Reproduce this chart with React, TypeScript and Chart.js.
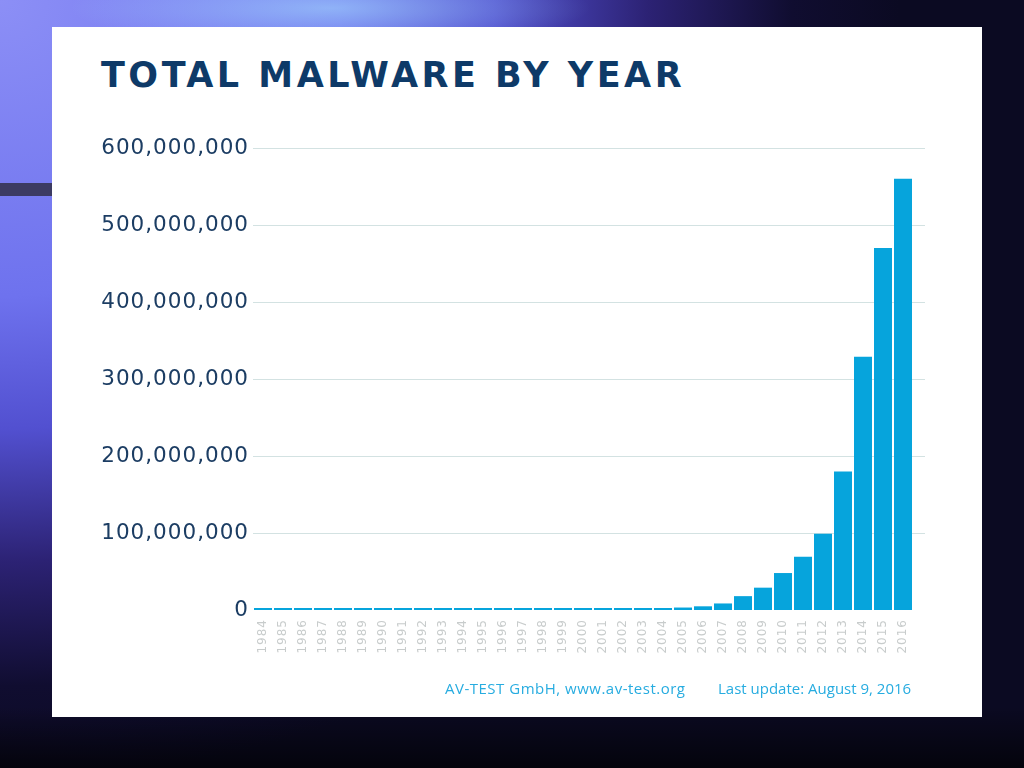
import React, { useEffect, useRef } from "react";
import { Chart, registerables } from "chart.js";

Chart.register(...registerables);

const years: string[] = [
  "1984", "1985", "1986", "1987", "1988", "1989", "1990", "1991", "1992", "1993", "1994",
  "1995", "1996", "1997", "1998", "1999", "2000", "2001", "2002", "2003", "2004", "2005",
  "2006", "2007", "2008", "2009", "2010", "2011", "2012", "2013", "2014", "2015", "2016",
];

const totalMalware: number[] = [
  100, 300, 1000, 3000, 8000, 15000, 30000, 50000, 80000, 120000, 170000,
  230000, 300000, 380000, 460000, 550000, 700000, 900000, 1200000, 1600000, 2200000, 3200000,
  4800000, 8500000, 18000000, 29000000, 48000000, 69000000, 99000000, 180000000, 329000000, 470000000, 560000000,
];

const yTicks: number[] = [0, 100000000, 200000000, 300000000, 400000000, 500000000, 600000000];

const titleText = "TOTAL MALWARE BY YEAR";
const sourceText = "AV-TEST GmbH, www.av-test.org";
const updateText = "Last update: August 9, 2016";

const gridPlugin = {
  id: "extendedGrid",
  beforeDraw(chart: any) {
    try {
      chart.ctx.letterSpacing = "1px";
    } catch (e) {}
  },
  beforeDatasetsDraw(chart: any) {
    const { ctx, chartArea, scales } = chart;
    const y = scales.y;
    ctx.save();
    ctx.strokeStyle = "#d3e2e2";
    ctx.lineWidth = 1;
    yTicks.forEach((v) => {
      if (v === 0) return;
      const py = Math.round(y.getPixelForValue(v)) + 0.5;
      ctx.beginPath();
      ctx.moveTo(chartArea.left, py);
      ctx.lineTo(chartArea.right + 12, py);
      ctx.stroke();
    });
    ctx.restore();
  },
  afterDraw(chart: any) {
    try {
      chart.ctx.letterSpacing = "0px";
    } catch (e) {}
  },
};

function MalwareChart() {
  const ref = useRef<HTMLCanvasElement | null>(null);
  useEffect(() => {
    if (!ref.current) return;
    const chart = new Chart(ref.current, {
      type: "bar",
      data: {
        labels: years,
        datasets: [
          {
            data: totalMalware,
            backgroundColor: "#06a4dc",
            borderWidth: 0,
            barPercentage: 0.9,
            categoryPercentage: 1.0,
            minBarLength: 2,
          },
        ],
      },
      options: {
        animation: false,
        responsive: false,
        maintainAspectRatio: false,
        layout: { padding: { left: 0, right: 69, top: 28, bottom: 20 } },
        plugins: {
          legend: { display: false },
          tooltip: { enabled: false },
          title: { display: false },
        },
        scales: {
          x: {
            type: "category",
            offset: true,
            grid: { display: false, drawTicks: false },
            border: { display: false },
            ticks: {
              autoSkip: false,
              minRotation: 90,
              maxRotation: 90,
              padding: 9,
              color: "#c8cccc",
              font: { family: "DejaVu Sans", size: 12 },
            },
            afterFit: (scale: any) => {
              scale.height = 50;
            },
          },
          y: {
            min: 0,
            max: 600000000,
            grid: { display: false, drawTicks: false },
            border: { display: false },
            ticks: {
              stepSize: 100000000,
              padding: 4,
              color: "#1c3d63",
              font: { family: "DejaVu Sans", size: 21.5 },
              callback: (v: any) => Number(v).toLocaleString("en-US"),
            },
            afterFit: (scale: any) => {
              scale.width = 201;
            },
          },
        },
      },
      plugins: [gridPlugin],
    });
    return () => chart.destroy();
  }, []);
  return <canvas ref={ref} width={930} height={560} style={{ display: "block", width: 930, height: 560 }} />;
}

export default function App() {
  return (
    <div
      style={{
        position: "fixed",
        left: 0,
        top: 0,
        width: 1024,
        height: 768,
        overflow: "hidden",
        background:
          "linear-gradient(to bottom, rgba(0,0,0,0) 92%, rgba(0,0,0,0.65) 100%), radial-gradient(ellipse 260px 40px at 330px 8px, rgba(170,230,255,0.55) 0%, rgba(170,230,255,0) 100%), radial-gradient(ellipse 900px 780px at 0px 0px, #8c8ff6 0%, #6e72ee 38%, #5250d0 55%, #2c2274 72%, #100d30 88%, #0b0a22 100%), #0b0a22",
      }}
    >
      <div style={{ position: "absolute", left: 0, top: 183, width: 52, height: 13, background: "#3c3b62" }} />
      <div
        style={{
          position: "absolute",
          left: 52,
          top: 27,
          width: 930,
          height: 690,
          background: "#ffffff",
        }}
      >
        <div
          style={{
            position: "absolute",
            left: 49,
            top: 26,
            fontFamily: "'DejaVu Sans', sans-serif",
            fontWeight: "bold",
            fontSize: 35,
            letterSpacing: 3.5,
            color: "#0e3a68",
            whiteSpace: "nowrap",
            lineHeight: "44px",
          }}
        >
          {titleText}
        </div>
        <div style={{ position: "absolute", left: 0, top: 93 }}>
          <MalwareChart />
        </div>
        <div
          style={{
            position: "absolute",
            left: 393,
            top: 651,
            fontFamily: "'Open Sans', sans-serif",
            fontSize: 15,
            letterSpacing: 0.5,
            color: "#27ace0",
            whiteSpace: "nowrap",
            lineHeight: "20px",
          }}
        >
          {sourceText}
        </div>
        <div
          style={{
            position: "absolute",
            left: 666,
            top: 651,
            fontFamily: "'Open Sans', sans-serif",
            fontSize: 15,
            color: "#27ace0",
            whiteSpace: "nowrap",
            lineHeight: "20px",
          }}
        >
          {updateText}
        </div>
      </div>
    </div>
  );
}
